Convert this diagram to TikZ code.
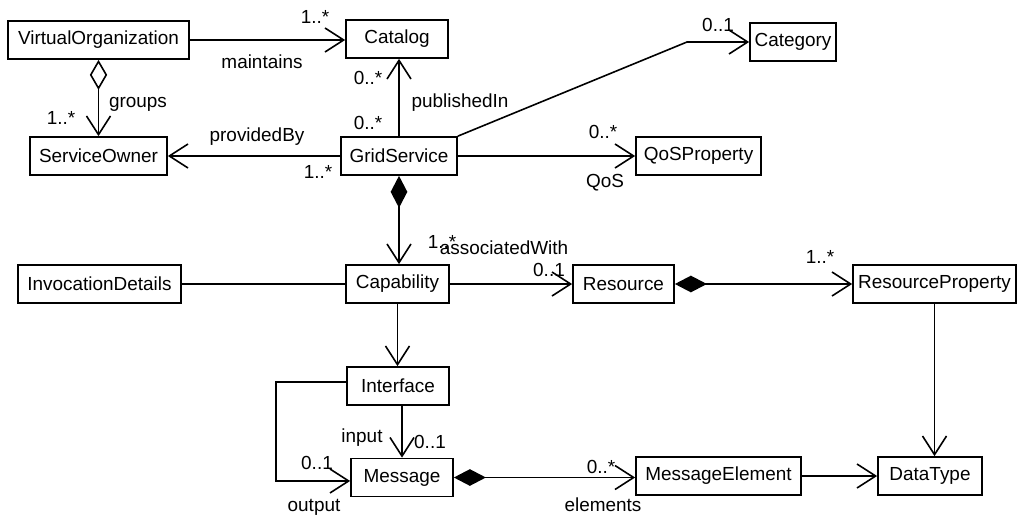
\documentclass[tikz,border=0pt]{standalone}
\usepackage{fontspec}
\setmainfont{Liberation Sans}
\usetikzlibrary{arrows.meta}
\begin{document}
\begin{tikzpicture}[x=0.75pt,y=-0.75pt,
  cls/.style={draw,line width=1.3pt,inner sep=0pt,minimum height=28.5pt,
    font=\fontsize{14.2}{16}\selectfont},
  lbl/.style={inner sep=0pt,font=\fontsize{14.2}{16}\selectfont},
  edge/.style={line width=1.2pt},
  barb/.tip={Straight Barb[length=14pt,width=18pt]},
  comp/.tip={Diamond[length=24pt,width=12.5pt]},
  aggr/.tip={Diamond[open,length=22.5pt,width=13pt]},
  nav/.style={edge,-barb},
  whole/.style={edge,comp-barb},
  shared/.style={edge,aggr-barb}]
\useasboundingbox (0,0) rectangle (1019,517);

% classes
\node[cls,minimum width=135.75pt] (vo)  at (98.5,40)  {VirtualOrganization};
\node[cls,minimum width=76.5pt]   (cat) at (397,39)   {Catalog};
\node[cls,minimum width=64.5pt]   (cty) at (793,42)   {Category};
\node[cls,minimum width=102.75pt] (so)  at (98.5,156) {ServiceOwner};
\node[cls,minimum width=87pt]     (gs)  at (399,156)  {GridService};
\node[cls,minimum width=93.75pt]  (qos) at (698.5,156){QoSProperty};
\node[cls,minimum width=122.25pt] (inv) at (99.5,284) {InvocationDetails};
\node[cls,minimum width=77.25pt]  (cap) at (397.5,284){Capability};
\node[cls,minimum width=75.75pt]  (res) at (623.5,284){Resource};
\node[cls,minimum width=122.25pt] (rp)  at (934.5,284){ResourceProperty};
\node[cls,minimum width=76.5pt]   (ifc) at (398,386)  {Interface};
\node[cls,minimum width=76.5pt]   (msg) at (402,477.5){Message};
\node[cls,minimum width=123.75pt] (me)  at (718.5,476){MessageElement};
\node[cls,minimum width=78pt]     (dt)  at (930,476)  {DataType};

\coordinate (bend) at (687,42);

% associations
\draw[nav]    (vo.east) -- (vo.east -| cat.west);
\draw[shared] (vo.south) -- (so.north);
\draw[nav]    (gs.west) -- (so.east);
\draw[nav]    (gs.north) -- (gs.north |- cat.south);
\draw[nav]    (gs.north east) -- (bend) -- (cty.west);
\draw[nav]    (gs.east) -- (qos.west);
\draw[whole]  (gs.south) -- (gs.south |- cap.north);
\draw[edge]   (inv.east) -- (cap.west);
\draw[nav]    (cap.east) -- (res.west);
\draw[whole]  (res.east) -- (rp.west);
\draw[nav]    (rp.south) -- (rp.south |- dt.north);
\draw[nav]    (cap.south) -- (cap.south |- ifc.north);
\draw[nav]    (msg.north |- ifc.south) -- (msg.north);
\draw[nav]    ([yshift=3pt]ifc.west) -- ++(-70,0) |- ([yshift=-2.6pt]msg.west);
\draw[whole]  (msg.east) -- (msg.east -| me.west);
\draw[nav]    (me.east) -- (dt.west);

% role names and multiplicities
\node[lbl] (m1)  at (315,17)  {1..*};
\node[lbl] (r1)  at (262,62)  {maintains};
\node[lbl] (r2)  at (138,104) {groups};
\node[lbl] (m2)  at (61,118)  {1..*};
\node[lbl] (r3)  at (257,137) {providedBy};
\node[lbl] (m3)  at (318,172) {1..*};
\node[lbl] (m4)  at (368,78)  {0..*};
\node[lbl] (m5)  at (368,123) {0..*};
\node[lbl] (r4)  at (460,103) {publishedIn};
\node[lbl] (m6)  at (718,25)  {0..1};
\node[lbl] (m7)  at (603,132) {0..*};
\node[lbl] (r5)  at (605,183) {QoS};
\node[lbl] (m8)  at (442,242) {1..*};
\node[lbl] (r6)  at (504,248) {associatedWith};
\node[lbl] (m9)  at (549,270) {0..1};
\node[lbl] (m10) at (820,257) {1..*};
\node[lbl] (r7)  at (362,438) {input};
\node[lbl] (m11) at (430,442) {0..1};
\node[lbl] (m12) at (317,463) {0..1};
\node[lbl] (r8)  at (314,507) {output};
\node[lbl] (m13) at (601,467) {0..*};
\node[lbl] (r9)  at (603,505) {elements};
\end{tikzpicture}
\end{document}
